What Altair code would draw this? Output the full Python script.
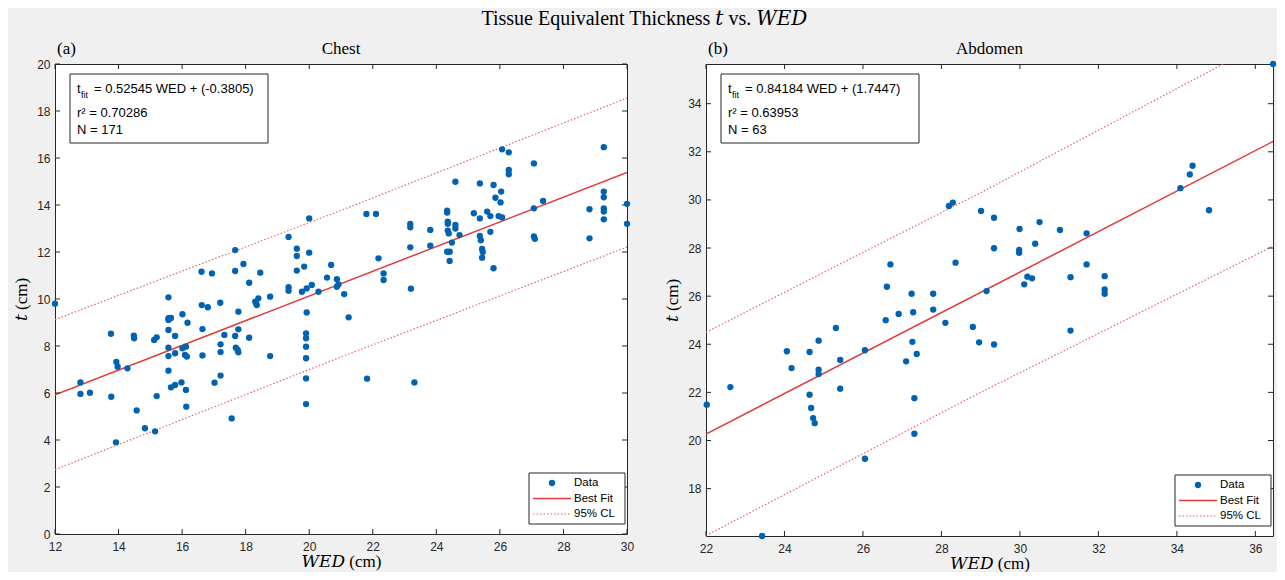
import altair as alt
import pandas as pd

# ---------------- data ----------------
chest_wed = [12.0, 12.8, 12.8, 13.1, 13.76, 13.77, 13.92, 13.93, 13.97, 14.28,
             14.48, 14.49, 14.57, 14.83, 15.12, 15.2, 15.15, 15.2, 15.57, 15.57,
             15.57, 15.65, 15.57, 15.57, 15.57, 15.57, 15.65, 15.78, 15.78, 15.78,
             15.98, 16.01, 16.01, 16.12, 16.09, 16.15, 16.17, 16.12, 16.13, 16.61,
             16.62, 16.64, 16.64, 16.81, 16.94, 17.02, 17.2, 17.21, 17.21, 17.21,
             17.33, 17.56, 17.67, 17.67, 17.67, 17.69, 17.75, 17.77, 17.77, 17.77,
             17.93, 18.11, 18.11, 18.3, 18.35, 18.4, 18.46, 18.33, 18.77, 18.77,
             19.35, 19.35, 19.35, 19.61, 19.61, 19.61, 19.84, 19.77, 19.92, 20.08,
             20.0, 20.0, 19.92, 19.9, 19.9, 19.9, 19.9, 19.9, 19.9, 20.29,
             20.56, 20.69, 20.87, 20.87, 20.92, 21.1, 21.24, 21.8, 22.1, 22.18,
             22.34, 22.34, 21.82, 23.18, 23.18, 23.18, 23.2, 23.31, 23.81, 23.81,
             24.34, 24.34, 24.36, 24.36, 24.36, 24.39, 24.6, 24.6, 24.73, 24.49,
             24.34, 24.42, 24.42, 24.6, 25.18, 25.37, 25.37, 25.4, 25.44, 25.44,
             25.37, 25.6, 25.7, 25.8, 25.86, 26.04, 26.02, 25.7, 25.8, 25.96,
             26.07, 26.07, 26.28, 26.28, 26.28, 27.07, 29.27, 27.07, 27.36, 28.82,
             29.27, 29.27, 29.27, 29.27, 29.27, 30.0, 30.0, 27.07, 27.1, 28.82,
             25.46]
chest_t = [9.8, 6.45, 5.96, 6.01, 8.52, 5.84, 3.9, 7.32, 7.12, 7.05,
           8.44, 8.33, 5.26, 4.5, 8.26, 8.37, 4.37, 5.87, 10.07, 9.18,
           9.11, 9.19, 8.68, 7.93, 7.57, 6.95, 6.24, 6.34, 8.43, 7.69,
           6.45, 9.35, 7.9, 7.97, 7.62, 7.55, 8.99, 6.13, 5.42, 11.16,
           9.74, 8.72, 7.6, 9.65, 11.09, 6.44, 9.84, 8.07, 7.74, 6.74,
           8.47, 4.92, 12.08, 11.19, 8.43, 7.93, 7.83, 7.73, 9.46, 8.71,
           11.49, 10.69, 8.35, 9.89, 9.74, 10.03, 11.12, 9.8, 10.1, 7.57,
           12.64, 10.5, 10.35, 12.14, 11.83, 11.21, 11.38, 10.31, 10.45, 10.6,
           13.43, 11.97, 9.43, 8.54, 8.33, 7.97, 7.48, 6.62, 5.53, 10.31,
           10.91, 11.45, 10.84, 10.52, 10.62, 10.21, 9.22, 13.62, 13.62, 11.73,
           11.09, 10.81, 6.61, 13.19, 13.05, 12.2, 10.44, 6.45, 12.94, 12.27,
           13.76, 13.68, 13.29, 13.2, 12.91, 12.79, 13.15, 13.0, 12.72, 12.4,
           12.01, 12.01, 11.62, 14.99, 13.65, 13.43, 12.68, 12.5, 12.13, 11.76,
           14.92, 13.72, 13.53, 14.85, 14.31, 14.57, 14.11, 12.86, 11.31, 13.53,
           13.47, 16.37, 16.24, 15.49, 15.31, 15.77, 16.46, 13.86, 14.17, 13.82,
           14.57, 14.33, 13.86, 13.72, 13.39, 14.05, 13.2, 12.66, 12.56, 12.58,
           12.0]

abd_wed = [22.02, 22.62, 23.43, 24.06, 24.18, 24.64, 24.64, 24.68, 24.73, 24.77,
           24.87, 24.87, 24.87, 25.31, 25.42, 25.42, 26.05, 26.05, 26.58, 26.91,
           27.1, 27.28, 27.26, 27.37, 27.31, 27.31, 27.79, 27.24, 27.79, 28.1,
           28.19, 28.29, 28.36, 28.8, 28.96, 29.01, 29.15, 29.34, 29.34, 29.34,
           29.99, 29.98, 29.98, 30.11, 30.19, 30.31, 30.39, 30.5, 31.02, 31.29,
           31.29, 31.7, 31.7, 32.16, 32.16, 32.16, 34.09, 34.33, 34.4, 34.82,
           36.45, 26.7, 26.61]
abd_t = [21.49, 22.22, 16.03, 23.71, 23.01, 23.68, 21.9, 21.35, 20.93, 20.72,
         24.15, 22.94, 22.76, 24.68, 23.35, 22.15, 23.75, 19.24, 25.0, 25.26,
         23.29, 25.33, 24.1, 23.6, 21.76, 20.28, 25.44, 26.1, 26.1, 24.89,
         29.75, 29.89, 27.39, 24.72, 24.08, 29.54, 26.21, 29.26, 27.99, 23.99,
         28.79, 27.92, 27.8, 26.49, 26.81, 26.74, 28.18, 29.08, 28.75, 26.79,
         24.57, 28.61, 27.32, 26.83, 26.28, 26.1, 30.49, 31.06, 31.42, 29.57,
         35.65, 27.32, 26.39]

chest_fit_x = [12, 30]
chest_fit_y = [5.925, 15.383]
chest_hi_x = [12, 21, 30]
chest_hi_y = [9.12, 13.77, 18.55]
chest_lo_x = [12, 21, 30]
chest_lo_y = [2.74, 7.53, 12.21]

abd_fit_x = [22, 36.45]
abd_fit_y = [20.265, 32.43]
abd_hi_x = [22, 29, 35.18]
abd_hi_y = [24.5, 30.3, 35.65]
abd_lo_x = [22, 29, 36.45]
abd_lo_y = [16.05, 22.0, 28.08]

chest_xticks = [12, 14, 16, 18, 20, 22, 24, 26, 28, 30]
chest_yticks = [0, 2, 4, 6, 8, 10, 12, 14, 16, 18, 20]
abd_xticks = [22, 24, 26, 28, 30, 32, 34, 36]
abd_yticks = [18, 20, 22, 24, 26, 28, 30, 32, 34]

chest_eq = ["= 0.52545 WED + (-0.3805)", "r\u00b2 = 0.70286", "N = 171"]
abd_eq = ["= 0.84184 WED + (1.7447)", "r\u00b2 = 0.63953", "N = 63"]

BLUE = "#0062B1"
RED = "#E03A3A"
PINK = "#E2606A"
AX = "#262626"
SANS = "Liberation Sans"
SERIF = "Liberation Serif, DejaVu Serif"
IT_T = "\U0001D461"
IT_WED = "\U0001D44A\U0001D438\U0001D437"


def one():
    return pd.DataFrame({"a": [0]})


def panel(wed, t, fit_x, fit_y, hi_x, hi_y, lo_x, lo_y, xdom, ydom, xticks, yticks,
          eq, name, tag, W, H):
    xs = alt.Scale(domain=xdom, nice=False, zero=False)
    ys = alt.Scale(domain=ydom, nice=False, zero=False)
    xax = alt.Axis(values=xticks, title=IT_WED + " (cm)",
                   labelFlush=False, labelOverlap=False, labelPadding=7, titlePadding=1)
    yax = alt.Axis(values=yticks, title=IT_T + " (cm)", labelFlush=False,
                   labelOverlap=False, labelPadding=5, titlePadding=6)

    pts_df = pd.DataFrame({"wed": wed, "t": t})
    fit_df = pd.DataFrame({"wed": fit_x, "t": fit_y})
    cl_df = pd.DataFrame({"wed": hi_x + lo_x, "t": hi_y + lo_y,
                          "band": ["hi"] * len(hi_x) + ["lo"] * len(lo_x)})

    cl = alt.Chart(cl_df).mark_line(color=PINK, strokeWidth=1.2, strokeDash=[1.5, 2],
                                    clip=True).encode(
        x=alt.X("wed:Q", scale=xs, axis=xax), y=alt.Y("t:Q", scale=ys, axis=yax),
        detail="band:N")
    fit = alt.Chart(fit_df).mark_line(color=RED, strokeWidth=1.5, clip=True).encode(
        x=alt.X("wed:Q", scale=xs), y=alt.Y("t:Q", scale=ys))

    xt_df = pd.DataFrame({"wed": xticks})
    yt_df = pd.DataFrame({"t": yticks})
    tk = dict(color=AX, strokeWidth=1)
    xt_b = alt.Chart(xt_df).mark_rule(**tk).encode(
        x=alt.X("wed:Q", scale=xs), y=alt.value(H), y2=alt.value(H - 5))
    xt_t = alt.Chart(xt_df).mark_rule(**tk).encode(
        x=alt.X("wed:Q", scale=xs), y=alt.value(0), y2=alt.value(5))
    yt_l = alt.Chart(yt_df).mark_rule(**tk).encode(
        y=alt.Y("t:Q", scale=ys), x=alt.value(0), x2=alt.value(5))
    yt_r = alt.Chart(yt_df).mark_rule(**tk).encode(
        y=alt.Y("t:Q", scale=ys), x=alt.value(W), x2=alt.value(W - 5))

    pts = alt.Chart(pts_df).mark_circle(size=40, color=BLUE, opacity=1).encode(
        x=alt.X("wed:Q", scale=xs), y=alt.Y("t:Q", scale=ys))

    # annotation box
    box = alt.Chart(one()).mark_rect(fill="white", stroke=AX, strokeWidth=1).encode(
        x=alt.value(15), x2=alt.value(213), y=alt.value(10), y2=alt.value(79))
    txt = dict(font=SANS, fontSize=13, color="black", align="left", baseline="alphabetic")
    t1 = alt.Chart(one()).mark_text(**txt).encode(x=alt.value(22), y=alt.value(29),
                                                   text=alt.value("t"))
    t1s = alt.Chart(one()).mark_text(font=SANS, fontSize=9, color="black", align="left",
                                     baseline="alphabetic").encode(
        x=alt.value(26), y=alt.value(34), text=alt.value("fit"))
    t1r = alt.Chart(one()).mark_text(**txt).encode(x=alt.value(39), y=alt.value(29),
                                                    text=alt.value(eq[0]))
    t2 = alt.Chart(one()).mark_text(**txt).encode(x=alt.value(22), y=alt.value(53),
                                                   text=alt.value(eq[1]))
    t3 = alt.Chart(one()).mark_text(**txt).encode(x=alt.value(22), y=alt.value(70),
                                                   text=alt.value(eq[2]))

    # legend
    L, R, T, B = W - 98, W - 2, H - 61, H - 10
    lbox = alt.Chart(one()).mark_rect(fill="white", stroke=AX, strokeWidth=1).encode(
        x=alt.value(L), x2=alt.value(R), y=alt.value(T), y2=alt.value(B))
    ldot = alt.Chart(one()).mark_circle(size=40, color=BLUE, opacity=1).encode(
        x=alt.value(L + 23), y=alt.value(T + 10))
    lfit = alt.Chart(one()).mark_rule(color=RED, strokeWidth=1.5).encode(
        x=alt.value(L + 4), x2=alt.value(L + 42), y=alt.value(T + 25.5))
    lcl = alt.Chart(one()).mark_rule(color=PINK, strokeWidth=1.2, strokeDash=[1.5, 2]).encode(
        x=alt.value(L + 4), x2=alt.value(L + 42), y=alt.value(T + 41))
    ltx = dict(font=SANS, fontSize=11.5, color="black", align="left", baseline="middle")
    lt1 = alt.Chart(one()).mark_text(**ltx).encode(x=alt.value(L + 45), y=alt.value(T + 10),
                                                    text=alt.value("Data"))
    lt2 = alt.Chart(one()).mark_text(**ltx).encode(x=alt.value(L + 45), y=alt.value(T + 25.5),
                                                    text=alt.value("Best Fit"))
    lt3 = alt.Chart(one()).mark_text(**ltx).encode(x=alt.value(L + 45), y=alt.value(T + 41),
                                                    text=alt.value("95% CL"))

    hdr = dict(font=SERIF, fontSize=17, color="black", baseline="alphabetic")
    tagm = alt.Chart(one()).mark_text(align="left", **hdr).encode(
        x=alt.value(2), y=alt.value(-10), text=alt.value(tag))
    namem = alt.Chart(one()).mark_text(align="center", **hdr).encode(
        x=alt.value(W / 2), y=alt.value(-10), text=alt.value(name))

    return alt.layer(cl, fit, xt_b, xt_t, yt_l, yt_r, pts, box, t1, t1s, t1r, t2, t3,
                     lbox, ldot, lfit, lcl, lt1, lt2, lt3, tagm, namem).properties(
        width=W, height=H)


chest = panel(chest_wed, chest_t, chest_fit_x, chest_fit_y, chest_hi_x, chest_hi_y,
              chest_lo_x, chest_lo_y, [12, 30], [0, 20], chest_xticks, chest_yticks,
              chest_eq, "Chest", "(a)", 572, 470)
abd = panel(abd_wed, abd_t, abd_fit_x, abd_fit_y, abd_hi_x, abd_hi_y, abd_lo_x, abd_lo_y,
            [22, 36.45], [16.03, 35.65], abd_xticks, abd_yticks, abd_eq,
            "Abdomen", "(b)", 567, 472)

chart = alt.hconcat(chest, abd, spacing=28).properties(
    title=alt.TitleParams("Tissue Equivalent Thickness " + IT_T + " vs. " + IT_WED,
                          font=SERIF, fontSize=20, fontWeight="normal", color="black",
                          anchor="middle", offset=11),
    padding={"left": 4, "top": 0, "right": 0, "bottom": 0},
    background="#f0f0f0",
).configure_view(
    stroke=AX, strokeWidth=1, fill="white"
).configure_axis(
    domain=False, ticks=False, grid=False,
    labelFont=SANS, labelFontSize=12, labelColor=AX,
    titleFont=SERIF, titleFontSize=17, titleFontWeight="normal", titleColor="black",
)

chart.save("out.html", embed_options={"renderer": "svg", "actions": False})
